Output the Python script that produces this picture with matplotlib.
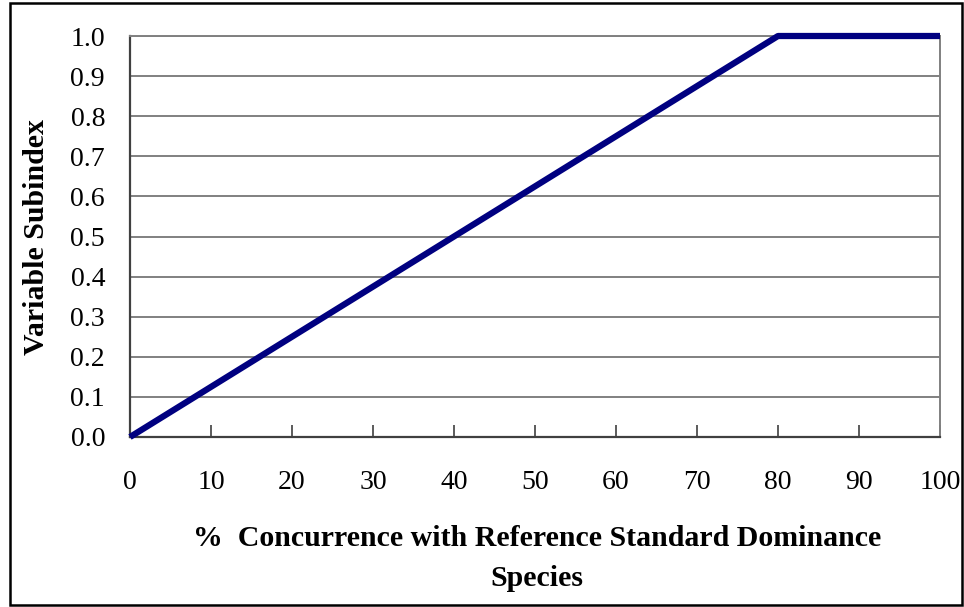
import matplotlib
matplotlib.use("Agg")
import matplotlib.pyplot as plt
from matplotlib.patches import Rectangle

concurrence = [0, 80, 100]
subindex = [0.0, 1.0, 1.0]
x_ticks = list(range(0, 101, 10))
y_ticks = [i / 10 for i in range(11)]
y_tick_labels = ["%.1f" % v for v in y_ticks]

plt.rcParams['font.family'] = ['Liberation Serif', 'DejaVu Serif']

W, H = 964, 607
fig = plt.figure(figsize=(W / 100, H / 100), dpi=100)
ax = fig.add_axes([130 / W, 1 - 437 / H, 810 / W, 401 / H])

ax.plot(concurrence, subindex, color='#000080', linewidth=4.5,
        solid_capstyle='butt', zorder=3, clip_on=False)

ax.set_xlim(0, 100)
ax.set_ylim(0, 1.0)
ax.set_xticks(x_ticks)
ax.set_yticks(y_ticks)
ax.set_yticklabels(y_tick_labels)
ax.grid(axis='y', color='#808080', linewidth=1.4)
ax.set_axisbelow(True)

ax.tick_params(axis='x', direction='in', length=9, width=1.2, color='#404040',
               labelsize=20, pad=24)
ax.tick_params(axis='y', length=0, labelsize=20, pad=18)

for side in ('top', 'right'):
    ax.spines[side].set_color('#808080')
    ax.spines[side].set_linewidth(1.4)
for side in ('left', 'bottom'):
    ax.spines[side].set_color('#404040')
    ax.spines[side].set_linewidth(1.6)

# axis titles placed by hand, like the original layout
fig.text(537 / W, 1 - 539 / H,
         "%  Concurrence with Reference Standard Dominance",
         fontsize=21.5, fontweight='bold', ha='center', va='center')
fig.text(537 / W, 1 - 578 / H, "Species",
         fontsize=21.5, fontweight='bold', ha='center', va='center')
fig.text(37 / W, 1 - 237 / H, "Variable Subindex", rotation=90,
         fontsize=21.5, fontweight='bold', ha='center', va='center')

# outer frame round the whole chart
fig.patches.append(Rectangle((10 / W, 2 / H), 952 / W, 602 / H,
                             transform=fig.transFigure, fill=False,
                             edgecolor='black', linewidth=1.8))

fig.savefig("out.png", dpi=100)
